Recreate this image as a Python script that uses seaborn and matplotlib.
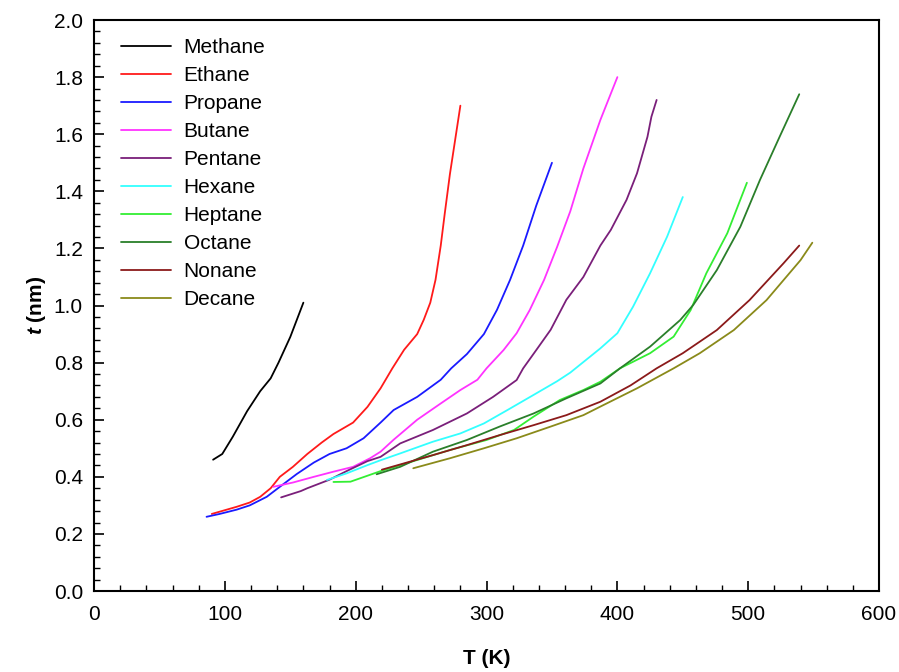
import pandas as pd
import matplotlib.pyplot as plt
import seaborn as sns
from matplotlib.ticker import MultipleLocator

# --- Film thickness t (nm) vs temperature T (K) for n-alkanes ---
methane_T = [91, 98, 106, 117, 127, 135, 141, 150, 160]
methane_t = [0.46, 0.48, 0.54, 0.63, 0.70, 0.745, 0.80, 0.89, 1.01]

ethane_T = [90, 109, 119, 127, 135, 142, 152, 163, 174, 183, 198, 209, 219,
            228, 237, 247, 252, 257, 261, 265, 268, 272, 276, 280]
ethane_t = [0.27, 0.295, 0.31, 0.33, 0.36, 0.40, 0.435, 0.48, 0.52, 0.55, 0.59,
            0.645, 0.71, 0.78, 0.845, 0.90, 0.95, 1.01, 1.09, 1.21, 1.32, 1.46,
            1.58, 1.70]

propane_T = [86, 96, 109, 119, 132, 142, 155, 168, 180, 193, 206, 219, 229,
             247, 265, 273, 285, 298, 308, 318, 328, 338, 350]
propane_t = [0.26, 0.27, 0.285, 0.30, 0.33, 0.365, 0.41, 0.45, 0.48, 0.50,
             0.535, 0.59, 0.634, 0.68, 0.74, 0.78, 0.83, 0.90, 0.985, 1.09,
             1.21, 1.35, 1.50]

butane_T = [137, 152, 168, 183, 198, 211, 219, 229, 247, 265, 280, 293, 300,
            313, 323, 333, 344, 354, 364, 374, 387, 400]
butane_t = [0.365, 0.38, 0.40, 0.418, 0.435, 0.465, 0.488, 0.53, 0.60, 0.657,
            0.704, 0.74, 0.78, 0.844, 0.903, 0.984, 1.09, 1.206, 1.33, 1.48,
            1.65, 1.80]

pentane_T = [143, 158, 163, 180, 193, 209, 219, 234, 259, 285, 305, 316, 323,
             328, 338, 349, 361, 374, 387, 395, 407, 415, 423, 426, 430]
pentane_t = [0.328, 0.35, 0.36, 0.39, 0.42, 0.455, 0.47, 0.517, 0.564, 0.622,
             0.68, 0.716, 0.739, 0.78, 0.844, 0.915, 1.02, 1.10, 1.21, 1.265,
             1.37, 1.463, 1.591, 1.661, 1.72]

hexane_T = [178, 193, 209, 219, 234, 259, 280, 298, 316, 336, 354, 364, 387,
            400, 412, 425, 438, 450]
hexane_t = [0.389, 0.412, 0.441, 0.458, 0.482, 0.523, 0.552, 0.587, 0.634,
            0.687, 0.735, 0.765, 0.85, 0.903, 0.996, 1.113, 1.241, 1.38]

heptane_T = [183, 196, 219, 247, 272, 300, 321, 336, 356, 374, 387, 402, 425,
             443, 456, 468, 484, 499]
heptane_t = [0.382, 0.383, 0.42, 0.459, 0.494, 0.529, 0.564, 0.611, 0.669,
             0.704, 0.733, 0.78, 0.833, 0.891, 0.984, 1.113, 1.253, 1.43]

octane_T = [216, 234, 259, 285, 310, 336, 361, 387, 402, 425, 448, 458, 476,
            494, 509, 524, 539]
octane_t = [0.409, 0.435, 0.488, 0.529, 0.576, 0.622, 0.675, 0.727, 0.78,
            0.856, 0.949, 1.002, 1.124, 1.276, 1.44, 1.591, 1.74]

nonane_T = [220, 259, 285, 310, 336, 361, 387, 410, 430, 450, 476, 501, 527, 539]
nonane_t = [0.425, 0.476, 0.511, 0.546, 0.581, 0.616, 0.663, 0.72, 0.78,
            0.833, 0.914, 1.019, 1.148, 1.21]

decane_T = [244, 272, 298, 323, 349, 374, 387, 415, 443, 463, 489, 514, 540, 549]
decane_t = [0.43, 0.465, 0.50, 0.535, 0.576, 0.616, 0.646, 0.71, 0.78, 0.833,
            0.914, 1.019, 1.159, 1.22]

names = ['Methane', 'Ethane', 'Propane', 'Butane', 'Pentane',
         'Hexane', 'Heptane', 'Octane', 'Nonane', 'Decane']
all_T = [methane_T, ethane_T, propane_T, butane_T, pentane_T,
         hexane_T, heptane_T, octane_T, nonane_T, decane_T]
all_t = [methane_t, ethane_t, propane_t, butane_t, pentane_t,
         hexane_t, heptane_t, octane_t, nonane_t, decane_t]

colors = {
    'Methane': '#000000',
    'Ethane': '#ff1a1a',
    'Propane': '#1a1aff',
    'Butane': '#ff33ff',
    'Pentane': '#7a1f7a',
    'Hexane': '#33ffff',
    'Heptane': '#33ee33',
    'Octane': '#2a7f2a',
    'Nonane': '#8b1a1a',
    'Decane': '#8a8a1a',
}

# long-format table for seaborn
frames = []
for name, T, t in zip(names, all_T, all_t):
    frames.append(pd.DataFrame({'T': T, 't': t, 'Alkane': name}))
df = pd.concat(frames, ignore_index=True)

sns.set_style("ticks")
plt.rcParams['font.family'] = ['Liberation Sans', 'DejaVu Sans']
plt.rcParams['mathtext.fontset'] = 'custom'
plt.rcParams['mathtext.it'] = 'Liberation Sans:italic:bold'
for key in ['text.color', 'axes.labelcolor', 'xtick.color', 'ytick.color', 'axes.edgecolor']:
    plt.rcParams[key] = 'black'

fig = plt.figure(figsize=(8.99, 6.72), dpi=100)
ax = fig.add_axes([0.1046, 0.1205, 0.8732, 0.8497])

sns.lineplot(data=df, x='T', y='t', hue='Alkane', hue_order=names,
             palette=colors, sort=False, estimator=None, linewidth=1.3, ax=ax)

ax.set_xlim(0, 600)
ax.set_ylim(0, 2.0)
ax.xaxis.set_major_locator(MultipleLocator(100))
ax.xaxis.set_minor_locator(MultipleLocator(20))
ax.yaxis.set_major_locator(MultipleLocator(0.2))
ax.yaxis.set_minor_locator(MultipleLocator(0.04))
ax.yaxis.set_major_formatter(plt.FormatStrFormatter('%.1f'))
ax.tick_params(which='major', direction='in', length=7, width=1.2, labelsize=15)
ax.tick_params(which='minor', direction='in', length=4, width=1.0)
ax.tick_params(axis='x', pad=10)
ax.tick_params(axis='y', pad=8)
for sp in ax.spines.values():
    sp.set_linewidth(1.5)
    sp.set_visible(True)

ax.set_xlabel('T (K)', fontsize=15, fontweight='bold', labelpad=18)
ax.set_ylabel(r'$t$ (nm)', fontsize=15, fontweight='bold', labelpad=4)

ax.legend(loc='upper left', bbox_to_anchor=(0.034, 0.968), frameon=False,
          fontsize=15, handlelength=2.4, handletextpad=0.62, labelspacing=0.43,
          borderaxespad=0, borderpad=0)

plt.savefig('out.png', dpi=100)
plt.close()
